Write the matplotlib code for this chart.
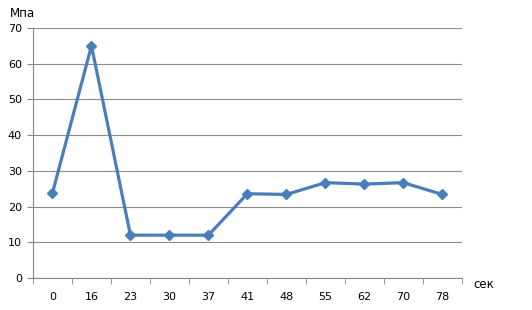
import numpy as np
import matplotlib
matplotlib.use('Agg')
import matplotlib.pyplot as plt

# data
times = ['0', '16', '23', '30', '37', '41', '48', '55', '62', '70', '78']
pressure = [23.8, 65, 12, 12, 12, 23.6, 23.4, 26.7, 26.3, 26.7, 23.4]

fig = plt.figure(figsize=(5.32, 3.10), dpi=100)
ax = fig.add_axes([0.062, 0.103, 0.806, 0.807])

x = np.arange(len(times))
ax.plot(x, pressure, color='#4A7EBB', lw=2.3, marker='D', ms=5,
        solid_joinstyle='round')

ax.set_xlim(-0.5, len(times) - 0.5)
ax.set_ylim(0, 70)
ax.set_yticks(range(0, 71, 10))
ax.set_xticks(x)
ax.set_xticklabels(times)
ax.set_xticks(np.arange(-0.5, len(times), 1), minor=True)
ax.tick_params(axis='x', which='major', length=0, pad=10, labelsize=8)
ax.tick_params(axis='x', which='minor', length=4, color='#888888')
ax.tick_params(axis='y', length=4, color='#888888', labelsize=8, pad=4)

ax.grid(axis='y', color='#8c8c8c', lw=0.8)
ax.set_axisbelow(True)
for s in ['top', 'right']:
    ax.spines[s].set_visible(False)
for s in ['left', 'bottom']:
    ax.spines[s].set_color('#888888')

fig.text(0.019, 0.955, 'Мпа', fontsize=8.5, va='center')
fig.text(0.89, 0.083, 'сек', fontsize=8.5, va='center')

fig.savefig('out.png', dpi=100)
